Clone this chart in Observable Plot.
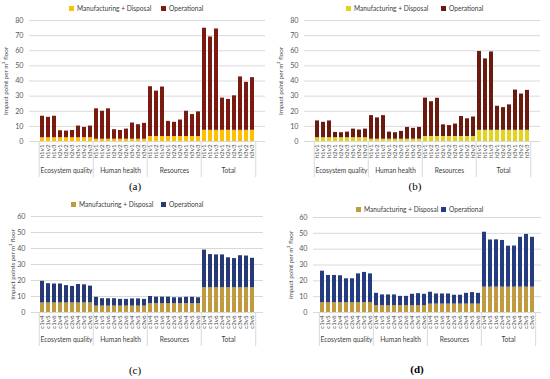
<!DOCTYPE html>
<html><head><meta charset="utf-8">
<script src="https://cdn.jsdelivr.net/npm/d3@7"></script>
<script src="https://cdn.jsdelivr.net/npm/@observablehq/plot@0.6"></script>
<style>
body{margin:0;background:#fff;}
#root{position:relative;width:550px;height:379px;overflow:hidden;font-family:Lato,"Open Sans",sans-serif;}
.panel{position:absolute;}
.leg{position:absolute;font-size:6.6px;color:#404040;display:flex;align-items:center;white-space:nowrap;height:9px;line-height:9px;}
.sw{display:inline-block;width:5px;height:5px;margin-right:3px;}
.plabel{position:absolute;font-family:"Liberation Serif","DejaVu Serif",serif;font-size:11px;color:#000;transform:translate(-50%,-50%);}
</style></head><body><div id="root"></div>
<script>
const groups = ["Ecosystem quality", "Human health", "Resources", "Total"];
const casesAB = ["h1v1","h1v2","h1v3","h2v1","h2v2","h2v3","h3v1","h3v2","h3v3"];
const casesCD = ["c1v4","c1v5","c1v6","c2v4","c2v5","c2v6","c3v4","c3v5","c3v6"];
const seriesNames = ["Manufacturing + Disposal", "Operational"];

// Panel (a): bar totals per group, manufacturing+disposal per group
const aEcosystem = [16.7,16.0,16.7,7.1,6.9,7.3,10.2,9.3,10.2];
const aHuman     = [21.6,20.0,21.6,7.8,7.3,8.2,12.2,11.1,12.0];
const aResources = [36.2,33.3,36.0,13.3,12.7,14.2,20.0,17.8,19.6];
const aTotal     = [74.9,69.1,74.4,28.7,27.8,30.2,42.7,39.1,42.2];
const aMfg       = [2.5,1.5,3.3,7.4];

// Panel (b)
const bEcosystem = [13.6,12.7,13.6,6.0,5.8,6.2,8.2,7.6,8.2];
const bHuman     = [17.1,15.6,17.1,6.2,5.8,6.7,9.3,8.7,9.3];
const bResources = [28.7,26.3,28.6,11.0,10.5,11.5,16.5,15.0,16.2];
const bTotal     = [59.5,54.6,59.2,23.3,22.4,24.2,34.0,31.4,33.8];
const bMfg       = [2.5,1.5,3.3,7.4];

// Panel (c)
const cEcosystem = [19.5,18.0,17.8,17.8,16.8,16.3,17.5,17.3,16.5];
const cHuman     = [9.5,8.6,8.6,8.6,8.2,8.2,8.5,8.5,8.2];
const cResources = [10.0,9.6,9.6,9.6,9.2,9.2,9.5,9.5,9.2];
const cTotal     = [39.0,36.2,36.0,36.0,34.2,33.7,35.5,35.3,33.9];
const cMfg       = [6.0,4.0,5.5,15.5];

// Panel (d)
const dEcosystem = [26.1,23.4,23.4,23.2,21.3,21.3,24.4,25.3,24.4];
const dHuman     = [12.1,11.1,11.1,11.1,10.2,10.2,11.5,11.9,11.5];
const dResources = [12.8,11.7,11.7,11.7,10.9,10.9,12.1,12.6,12.1];
const dTotal     = [50.7,45.8,45.9,45.5,41.9,42.0,47.5,49.3,47.5];
const dMfg       = [6.2,4.3,5.3,16.0];

const root = document.getElementById("root");

function makeRows(cases, series, mfg) {
  return groups.flatMap((g, gi) => cases.map((c, ci) => ({
    key: g + "|" + c, group: g, case: c, mfg: mfg[gi], total: series[gi][ci]
  })));
}

function panel(cfg) {
  const rows = makeRows(cfg.cases, cfg.series, cfg.mfg);
  const keys = rows.map(d => d.key);
  const plotW = cfg.width - cfg.ml - cfg.mr;
  const step = plotW / keys.length;
  const firsts = rows.filter(d => d.case === cfg.cases[0]);
  const last = rows.filter(d => d.key === keys[keys.length - 1]);
  const mids = rows.filter(d => d.case === cfg.cases[4]).map(d => ({key: d.key, group: d.group, y: 0}));
  const ticks = d3.range(0, cfg.ymax + 1, 10);
  const svg = Plot.plot({
    width: cfg.width, height: cfg.height,
    marginLeft: cfg.ml, marginRight: cfg.mr, marginTop: cfg.mt, marginBottom: cfg.mb,
    style: {fontFamily: "Lato, 'Open Sans', sans-serif", fontSize: "7px", color: "#595959", background: "transparent"},
    x: {type: "band", domain: keys, paddingInner: 0.32, paddingOuter: 0.16},
    y: {domain: [0, cfg.ymax]},
    marks: [
      Plot.gridY(ticks, {stroke: "#d9d9d9", strokeOpacity: 1}),
      Plot.barY(rows, {x: "key", y1: 0, y2: "mfg", fill: cfg.colors[0]}),
      Plot.barY(rows, {x: "key", y1: "mfg", y2: "total", fill: cfg.colors[1]}),
      Plot.ruleY([0], {stroke: "#d9d9d9"}),
      Plot.ruleX(firsts, {x: "key", y1: 0, y2: 0, dx: -step / 2, insetBottom: -cfg.sepLen, stroke: "#d9d9d9"}),
      Plot.ruleX(last, {x: "key", y1: 0, y2: 0, dx: step / 2, insetBottom: -cfg.sepLen, stroke: "#d9d9d9"}),
      Plot.text(mids, {x: "key", y: "y", text: "group", dy: cfg.groupDy, fontSize: 6.6, fill: "#404040"}),
      Plot.text([cfg.ylabel], {text: d => d, frameAnchor: "left", textAnchor: "middle", rotate: -90, dx: -cfg.labelOffset, fontSize: 6.2, fill: "#404040"}),
      Plot.axisX({tickRotate: -90, tickSize: 0, tickPadding: 3, tickFormat: k => k.split("|")[1], label: null, fontSize: 6.2, fill: "#4a4a4a"}),
      Plot.axisY({ticks, tickSize: 0, tickPadding: 6, label: null, fontSize: 7.2, fill: "#595959"})
    ]
  });
  svg.classList.add("panel");
  svg.style.left = cfg.left + "px";
  svg.style.top = cfg.top + "px";
  root.appendChild(svg);
  cfg.legend.forEach((lx, i) => {
    const el = document.createElement("div");
    el.className = "leg";
    el.style.left = lx + "px";
    el.style.top = (cfg.legendY - 4.5) + "px";
    el.innerHTML = `<span class="sw" style="background:${cfg.colors[i]}"></span>${seriesNames[i]}`;
    root.appendChild(el);
  });
  const pl = document.createElement("div");
  pl.className = "plabel";
  pl.style.left = cfg.plx + "px";
  pl.style.top = cfg.ply + "px";
  if (cfg.bold) pl.style.fontWeight = "bold";
  pl.textContent = cfg.name;
  root.appendChild(pl);
}

panel({left: 0, top: 0, width: 270, height: 182, ml: 29, mr: 5, mt: 20, mb: 41, ymax: 80,
  cases: casesAB, series: [aEcosystem, aHuman, aResources, aTotal], mfg: aMfg,
  colors: ["#FFC000", "#7a1a10"], ylabel: "Impact point per m² floor", labelOffset: 23,
  sepLen: 36, groupDy: 29, legend: [69, 161], legendY: 8, name: "(a)", plx: 135, ply: 186});

panel({left: 275, top: 0, width: 270, height: 182, ml: 29, mr: 5, mt: 20, mb: 41, ymax: 80,
  cases: casesAB, series: [bEcosystem, bHuman, bResources, bTotal], mfg: bMfg,
  colors: ["#E2D41C", "#6b1a10"], ylabel: "Impact point per m² floor", labelOffset: 23,
  sepLen: 36, groupDy: 29, legend: [346, 441], legendY: 8, name: "(b)", plx: 415, ply: 186});

panel({left: 0, top: 190, width: 270, height: 160, ml: 31, mr: 7, mt: 26, mb: 38, ymax: 60,
  cases: casesCD, series: [cEcosystem, cHuman, cResources, cTotal], mfg: cMfg,
  colors: ["#BF9A3E", "#263A78"], ylabel: "Impact points per m² floor", labelOffset: 18,
  sepLen: 34, groupDy: 27, legend: [71, 161], legendY: 204, name: "(c)", plx: 135, ply: 370});

panel({left: 275, top: 190, width: 270, height: 160, ml: 38, mr: 4, mt: 27, mb: 38, ymax: 60,
  cases: casesCD, series: [dEcosystem, dHuman, dResources, dTotal], mfg: dMfg,
  colors: ["#BF9A3E", "#263C80"], ylabel: "Impact point per m² floor", labelOffset: 22,
  sepLen: 34, groupDy: 27, legend: [356, 441], legendY: 209, name: "(d)", plx: 417, ply: 369, bold: true});
</script></body></html>
